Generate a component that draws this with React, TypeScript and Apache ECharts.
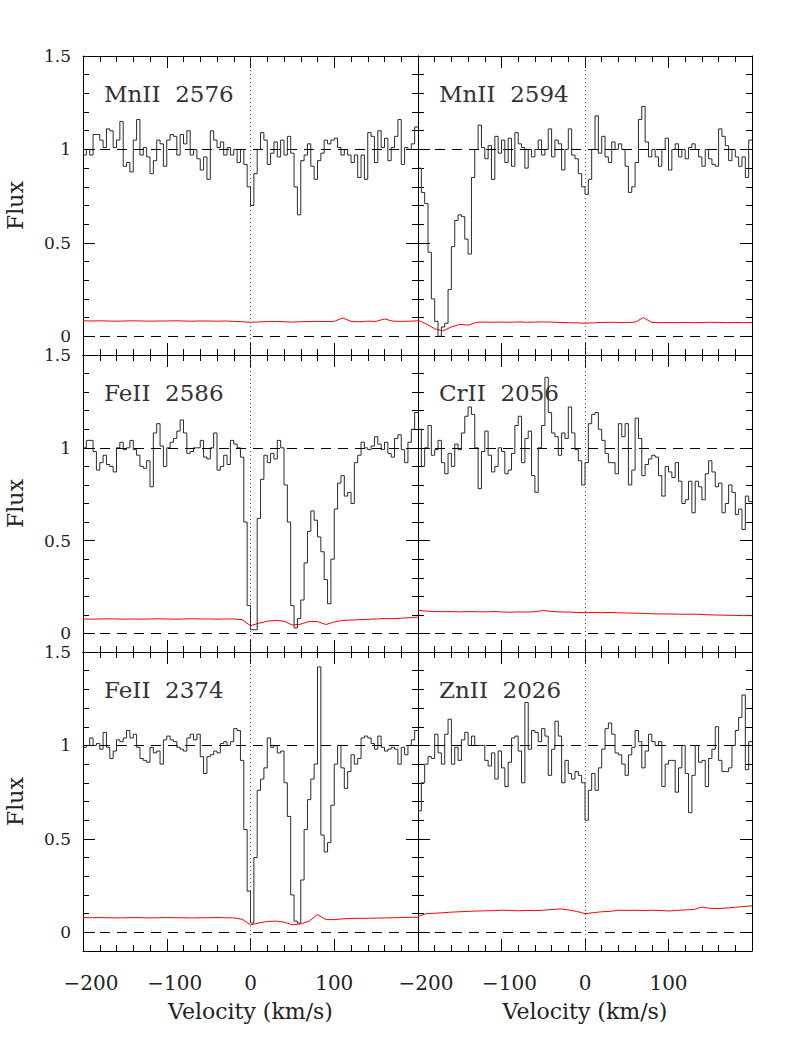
import React, { useEffect, useRef } from "react";
import * as echarts from "echarts";

// ---- velocity sampling (bin left edges, km/s) ----
const V_START = -200;
const V_BIN = 4;
const ERR_START = -200;
const ERR_STEP = 10;

const PANEL_LABELS = ["MnII  2576", "MnII  2594", "FeII  2586", "CrII  2056", "FeII  2374", "ZnII  2026"];
const X_TICK_LABELS = ["−200", "−100", "0", "100"];
const Y_TICK_LABELS = ["0", "0.5", "1", "1.5"];

// ---- normalised flux, 4 km/s bins from -200 to +200 ----
const MN2576_FLUX = [
  0.97, 1.00, 0.97, 1.08, 1.08, 1.05, 1.01, 1.11, 1.10, 1.01,
  1.05, 1.15, 0.91, 0.93, 0.88, 1.05, 1.16, 0.97, 1.01, 0.96,
  0.87, 0.94, 1.05, 1.03, 0.91, 1.05, 1.08, 1.07, 0.97, 1.08,
  1.03, 1.10, 0.97, 1.00, 0.95, 0.89, 0.96, 0.84, 1.10, 1.05,
  1.01, 1.04, 0.97, 1.01, 0.97, 1.00, 0.93, 1.00, 0.92, 0.80,
  0.70, 0.87, 1.00, 1.09, 1.05, 0.92, 0.98, 1.04, 0.96, 1.05,
  0.97, 1.07, 0.98, 0.80, 0.65, 0.94, 0.97, 1.03, 0.91, 0.84,
  0.94, 0.98, 1.05, 1.03, 1.05, 1.06, 1.01, 0.97, 1.00, 0.97,
  0.93, 0.97, 0.85, 0.97, 0.84, 1.09, 1.07, 0.93, 1.10, 1.01,
  1.06, 0.94, 1.01, 1.07, 1.16, 0.92, 1.01, 1.00, 1.03, 1.12,
];
const MN2594_FLUX = [
  0.90, 0.77, 0.71, 0.45, 0.20, 0.08, 0.00, 0.05, 0.07, 0.25,
  0.48, 0.62, 0.65, 0.64, 0.52, 0.44, 0.85, 1.00, 1.13, 1.01,
  0.95, 1.02, 0.84, 1.07, 0.98, 1.05, 0.93, 1.06, 0.91, 1.09,
  1.03, 1.01, 0.90, 1.00, 0.96, 1.00, 1.05, 0.97, 1.00, 1.11,
  0.96, 1.05, 1.03, 0.89, 1.00, 1.11, 0.97, 0.95, 0.87, 0.80,
  0.76, 0.84, 1.00, 1.18, 0.98, 1.07, 0.96, 0.93, 1.04, 1.00,
  1.03, 1.00, 0.91, 0.77, 0.80, 0.93, 1.16, 1.23, 1.04, 0.96,
  1.00, 0.96, 0.91, 1.00, 1.06, 0.89, 1.00, 1.03, 0.96, 1.00,
  0.95, 1.01, 1.03, 1.00, 0.96, 0.91, 1.00, 0.95, 0.92, 0.91,
  1.11, 1.07, 1.02, 0.94, 1.00, 0.96, 0.91, 0.96, 0.85, 1.05,
];
const FE2586_FLUX = [
  1.00, 1.04, 1.04, 0.98, 0.88, 0.92, 0.96, 0.91, 0.90, 0.87,
  1.00, 1.03, 0.99, 1.00, 1.04, 0.99, 0.96, 0.90, 0.89, 0.93,
  0.79, 1.08, 1.13, 1.01, 0.90, 1.00, 1.03, 1.05, 1.09, 1.15,
  1.08, 0.97, 0.98, 1.00, 1.00, 1.04, 0.95, 0.94, 1.00, 1.08,
  0.88, 0.90, 0.96, 0.91, 1.04, 1.02, 1.00, 0.95, 0.60, 0.15,
  0.02, 0.02, 0.62, 0.83, 0.96, 0.92, 0.97, 0.94, 1.04, 1.00,
  0.80, 0.60, 0.15, 0.03, 0.08, 0.18, 0.38, 0.55, 0.66, 0.61,
  0.52, 0.44, 0.29, 0.16, 0.40, 0.67, 0.81, 0.85, 0.74, 0.76,
  0.70, 0.92, 0.96, 1.03, 1.00, 0.99, 1.01, 1.06, 1.02, 0.99,
  1.03, 0.97, 0.95, 1.05, 1.07, 0.99, 0.92, 1.03, 1.10, 1.19,
];
const CR2056_FLUX = [
  1.10, 0.90, 1.00, 1.12, 0.96, 0.99, 1.04, 0.92, 0.86, 0.97,
  0.90, 1.02, 0.99, 1.08, 1.17, 1.22, 1.18, 1.00, 0.78, 0.98,
  1.09, 0.96, 0.87, 0.90, 1.00, 0.98, 0.86, 0.88, 0.97, 1.12,
  1.17, 0.92, 1.05, 1.09, 0.85, 0.76, 1.00, 1.12, 1.38, 1.19,
  1.08, 1.06, 0.96, 1.08, 1.05, 1.22, 1.08, 0.99, 0.93, 0.80,
  0.92, 1.13, 1.18, 1.19, 1.10, 1.04, 0.97, 0.92, 0.92, 0.86,
  1.13, 1.06, 1.13, 0.80, 0.88, 1.16, 1.05, 0.85, 0.91, 0.94,
  0.96, 0.95, 0.85, 0.74, 0.90, 0.87, 0.84, 0.92, 0.82, 0.70,
  0.72, 0.82, 0.65, 0.82, 0.79, 0.72, 0.86, 0.93, 0.87, 0.79,
  0.81, 0.65, 0.70, 0.80, 0.76, 0.64, 0.67, 0.56, 0.74, 0.71,
];
const FE2374_FLUX = [
  0.99, 1.00, 1.04, 1.00, 1.01, 0.98, 1.07, 0.99, 0.93, 0.97,
  1.03, 1.02, 1.04, 1.08, 1.04, 1.06, 0.99, 0.93, 0.92, 0.91,
  0.99, 0.96, 0.97, 0.90, 1.03, 1.05, 1.03, 1.02, 0.99, 0.98,
  0.97, 1.04, 1.06, 1.03, 1.06, 0.94, 0.85, 0.94, 0.95, 0.97,
  0.96, 1.01, 1.02, 1.00, 1.02, 1.09, 1.08, 0.92, 0.55, 0.22,
  0.05, 0.40, 0.76, 0.82, 0.88, 1.04, 0.99, 1.00, 0.96, 0.97,
  0.80, 0.62, 0.20, 0.06, 0.05, 0.28, 0.55, 0.71, 0.82, 0.90,
  1.42, 0.52, 0.43, 0.48, 0.68, 0.90, 1.00, 0.88, 0.77, 0.86,
  0.95, 0.90, 0.93, 1.04, 1.05, 1.04, 1.01, 0.98, 1.05, 0.99,
  0.97, 0.98, 0.99, 0.98, 0.90, 0.99, 0.95, 1.00, 1.03, 1.08,
];
const ZN2026_FLUX = [
  0.65, 0.80, 0.90, 0.94, 0.93, 1.06, 0.96, 0.90, 1.06, 1.14,
  0.90, 0.99, 0.92, 1.03, 1.07, 1.00, 1.05, 1.00, 1.00, 1.00,
  0.92, 0.89, 0.96, 0.82, 0.97, 0.88, 0.78, 0.91, 1.04, 1.05,
  0.97, 0.80, 1.23, 0.98, 1.08, 1.07, 1.02, 1.09, 1.05, 0.84,
  0.98, 1.13, 1.05, 0.80, 0.92, 0.85, 0.82, 0.86, 0.84, 0.80,
  0.60, 0.76, 0.85, 0.76, 0.88, 0.98, 1.09, 1.12, 1.06, 0.96,
  0.95, 0.90, 0.84, 0.95, 0.99, 1.08, 1.02, 0.88, 0.97, 1.06,
  1.02, 1.00, 1.02, 0.78, 0.90, 0.92, 0.92, 0.75, 0.88, 1.00,
  0.85, 0.64, 0.84, 1.00, 0.91, 0.92, 0.78, 0.93, 0.98, 1.10,
  0.92, 0.86, 0.86, 0.88, 1.00, 1.08, 1.15, 1.27, 0.87, 1.02,
];

// ---- error spectra, sampled every 10 km/s from -200 to +200 ----
const MN2576_ERR = [
  0.083, 0.082, 0.083, 0.082, 0.081, 0.082, 0.083, 0.082, 0.081, 0.082,
  0.082, 0.083, 0.082, 0.081, 0.082, 0.082, 0.081, 0.082, 0.080, 0.078,
  0.075, 0.077, 0.079, 0.080, 0.078, 0.076, 0.078, 0.079, 0.080, 0.079,
  0.080, 0.098, 0.080, 0.078, 0.081, 0.080, 0.093, 0.081, 0.080, 0.081, 0.083,
];
const MN2594_ERR = [
  0.086, 0.066, 0.040, 0.029, 0.050, 0.064, 0.060, 0.075, 0.076, 0.075,
  0.076, 0.075, 0.077, 0.075, 0.076, 0.077, 0.076, 0.074, 0.073, 0.072,
  0.070, 0.072, 0.074, 0.075, 0.074, 0.073, 0.076, 0.100, 0.074, 0.073,
  0.074, 0.073, 0.074, 0.073, 0.074, 0.075, 0.074, 0.073, 0.074, 0.073, 0.074,
];
const FE2586_ERR = [
  0.078, 0.077, 0.078, 0.079, 0.078, 0.077, 0.078, 0.077, 0.078, 0.079,
  0.078, 0.077, 0.078, 0.079, 0.078, 0.078, 0.077, 0.078, 0.078, 0.074,
  0.042, 0.055, 0.066, 0.070, 0.066, 0.045, 0.050, 0.064, 0.064, 0.048,
  0.062, 0.070, 0.072, 0.074, 0.076, 0.078, 0.080, 0.080, 0.082, 0.085, 0.088,
];
const CR2056_ERR = [
  0.125, 0.120, 0.118, 0.117, 0.118, 0.116, 0.118, 0.117, 0.116, 0.118,
  0.116, 0.114, 0.116, 0.115, 0.117, 0.124, 0.118, 0.116, 0.115, 0.113,
  0.112, 0.113, 0.112, 0.113, 0.111, 0.110, 0.109, 0.108, 0.106, 0.105,
  0.105, 0.104, 0.103, 0.104, 0.102, 0.100, 0.099, 0.098, 0.097, 0.096, 0.096,
];
const FE2374_ERR = [
  0.079, 0.078, 0.079, 0.078, 0.077, 0.078, 0.079, 0.078, 0.077, 0.078,
  0.079, 0.078, 0.078, 0.077, 0.078, 0.078, 0.079, 0.078, 0.077, 0.070,
  0.040, 0.050, 0.058, 0.060, 0.055, 0.040, 0.045, 0.060, 0.095, 0.068,
  0.068, 0.072, 0.074, 0.075, 0.075, 0.076, 0.077, 0.078, 0.079, 0.080, 0.081,
];
const ZN2026_ERR = [
  0.085, 0.100, 0.102, 0.105, 0.108, 0.110, 0.112, 0.114, 0.115, 0.116,
  0.118, 0.117, 0.115, 0.117, 0.116, 0.118, 0.122, 0.125, 0.120, 0.112,
  0.100, 0.105, 0.110, 0.112, 0.118, 0.117, 0.118, 0.116, 0.118, 0.117,
  0.114, 0.117, 0.120, 0.122, 0.135, 0.128, 0.127, 0.130, 0.134, 0.138, 0.142,
];

const FLUX = [MN2576_FLUX, MN2594_FLUX, FE2586_FLUX, CR2056_FLUX, FE2374_FLUX, ZN2026_FLUX];
const ERR = [MN2576_ERR, MN2594_ERR, FE2586_ERR, CR2056_ERR, FE2374_ERR, ZN2026_ERR];

// ---- layout ----
const COL_LEFT = [83, 418];
const COL_WIDTH = [335, 334];
const ROW_TOP = [56, 355, 652];
const ROW_HEIGHT = [299, 297, 299];
const FONT = "'DejaVu Serif', serif";
const INK = "#222";

function buildOption() {
  const grid: any[] = [];
  const xAxis: any[] = [];
  const yAxis: any[] = [];
  const series: any[] = [];
  const graphic: any[] = [];

  for (let g = 0; g < 6; g++) {
    const row = Math.floor(g / 2);
    const col = g % 2;
    const bottomRow = row === 2;
    const leftCol = col === 0;
    grid.push({ left: COL_LEFT[col], top: ROW_TOP[row], width: COL_WIDTH[col], height: ROW_HEIGHT[row] });

    const xBase = {
      type: "value",
      gridIndex: g,
      min: -200,
      max: 200,
      interval: 100,
      axisLine: { show: true, onZero: false, lineStyle: { color: "#000", width: 1 } },
      axisTick: { show: true, inside: true, length: 12, lineStyle: { color: "#000", width: 1 } },
      minorTick: { show: true, splitNumber: 5, length: 6, lineStyle: { color: "#000", width: 1 } },
      splitLine: { show: false },
      minorSplitLine: { show: false },
    };
    xAxis.push({
      ...xBase,
      position: "bottom",
      axisLabel: bottomRow
        ? {
            show: true,
            margin: 22,
            fontFamily: FONT,
            fontSize: 20,
            color: INK,
            formatter: (v: number) => {
              const idx = Math.round((v + 200) / 100);
              if (idx < 0 || idx >= X_TICK_LABELS.length) return "";
              const t = X_TICK_LABELS[idx];
              return v < 0 ? "{neg|" + t + "}" : t;
            },
            rich: { neg: { padding: [0, 0, 0, 16], fontFamily: FONT, fontSize: 20, color: INK } },
          }
        : { show: false },
      name: bottomRow ? "Velocity (km/s)" : "",
      nameLocation: "middle",
      nameGap: 49,
      nameTextStyle: { fontFamily: FONT, fontSize: 22, color: INK },
    });
    xAxis.push({ ...xBase, position: "top", axisLabel: { show: false } });

    const yBase = {
      type: "value",
      gridIndex: g,
      min: -0.1,
      max: 1.5,
      splitLine: { show: false },
    };
    const minorY = (pos: string, labels: boolean) => ({
      ...yBase,
      position: pos,
      interval: 0.1,
      axisLine: { show: true, onZero: false, lineStyle: { color: "#000", width: 1 } },
      axisTick: { show: true, inside: true, length: 6, lineStyle: { color: "#000", width: 1 } },
      axisLabel: labels
        ? {
            show: true,
            interval: 0,
            margin: 12,
            fontFamily: FONT,
            fontSize: 17,
            lineHeight: 13,
            color: INK,
            formatter: (v: number) => {
              const h = Math.round(v * 2 * 1000) / 1000;
              if (Math.abs(h - Math.round(h)) > 1e-6) return "";
              const idx = Math.round(h);
              return idx >= 0 && idx < Y_TICK_LABELS.length ? Y_TICK_LABELS[idx] : "";
            },
          }
        : { show: false },
      name: labels ? "Flux" : "",
      nameLocation: "middle",
      nameRotate: 90,
      nameGap: 57,
      nameTextStyle: { fontFamily: FONT, fontSize: 22, color: INK },
    });
    const majorY = (pos: string) => ({
      ...yBase,
      position: pos,
      interval: 0.1,
      axisLine: { show: false, onZero: false },
      axisTick: {
        show: true,
        inside: true,
        length: 12,
        customValues: [0, 0.5, 1, 1.5],
        lineStyle: { color: "#000", width: 1 },
      },
      axisLabel: { show: false },
    });
    const yBaseIndex = yAxis.length;
    yAxis.push(minorY("left", leftCol));
    yAxis.push(majorY("left"));
    yAxis.push(minorY("right", false));
    yAxis.push(majorY("right"));

    const fluxData = FLUX[g].map((f, k) => [V_START + V_BIN * k, f]);
    fluxData.push([V_START + V_BIN * FLUX[g].length, FLUX[g][FLUX[g].length - 1]]);
    const errData = ERR[g].map((e, k) => [ERR_START + ERR_STEP * k, e]);

    series.push({
      type: "line",
      xAxisIndex: 2 * g,
      yAxisIndex: yBaseIndex,
      data: fluxData,
      step: "end",
      showSymbol: false,
      symbol: "none",
      silent: true,
      lineStyle: { color: "#2a2a2a", width: 1 },
      z: 3,
      markLine: {
        silent: true,
        symbol: ["none", "none"],
        label: { show: false },
        animation: false,
        data: [
          { yAxis: 1, lineStyle: { type: [10, 7], color: "#000", width: 1 } },
          { yAxis: 0, lineStyle: { type: [10, 7], color: "#000", width: 1 } },
          { xAxis: 0, lineStyle: { type: [1, 3], color: "#555", width: 1 } },
        ],
      },
    });
    series.push({
      type: "line",
      xAxisIndex: 2 * g,
      yAxisIndex: yBaseIndex,
      data: errData,
      showSymbol: false,
      symbol: "none",
      silent: true,
      lineStyle: { color: "#ff0000", width: 1 },
      z: 2,
    });

    graphic.push({
      type: "text",
      left: COL_LEFT[col] + 21,
      top: ROW_TOP[row] + 26,
      silent: true,
      style: { text: PANEL_LABELS[g], font: "23px " + FONT, fill: "#333" },
    });
  }

  return {
    animation: false,
    backgroundColor: "#fff",
    grid,
    xAxis,
    yAxis,
    series,
    graphic,
  };
}

export default function App() {
  const ref = useRef<HTMLDivElement>(null);
  useEffect(() => {
    if (!ref.current) return;
    const chart = echarts.init(ref.current, undefined, { renderer: "svg" });
    chart.setOption(buildOption() as any);
    return () => chart.dispose();
  }, []);
  return (
    <div
      ref={ref}
      style={{ position: "absolute", left: 0, top: 0, width: 795, height: 1059, background: "#fff" }}
    />
  );
}
